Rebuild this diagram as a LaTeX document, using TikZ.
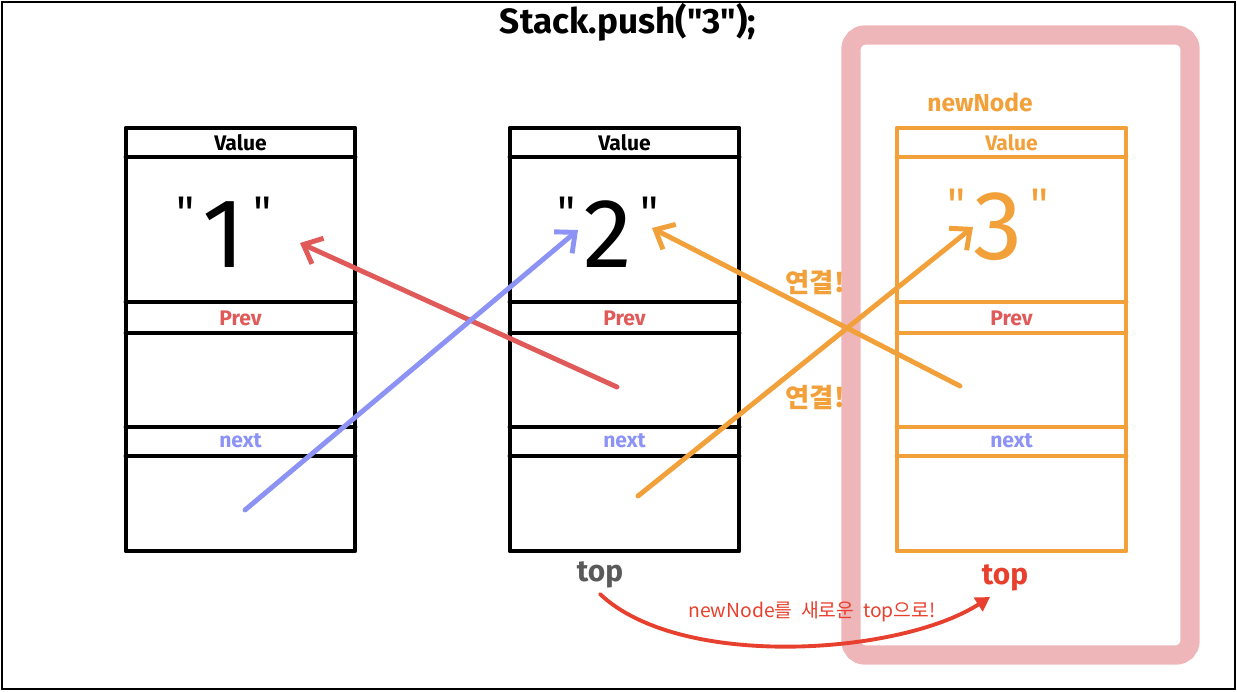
\documentclass[tikz,border=0pt]{standalone}
\usepackage{fontspec}
\setmainfont{Fira Sans}
\newfontfamily\plainfont{Fira Sans}
\newfontfamily\krfont{Noto Sans CJK KR}
\usetikzlibrary{arrows.meta}
\definecolor{NodeOrange}{HTML}{F2A03A}
\definecolor{PrevRed}{HTML}{E05A5A}
\definecolor{NextBlue}{HTML}{8C93F5}
\definecolor{HiPink}{HTML}{EFB6B9}
\definecolor{TopRed}{HTML}{E8402E}
\definecolor{TopGray}{HTML}{5A5A5A}
\newcommand{\quotedval}[1]{\plainfont\raisebox{0.4em}{\fontsize{26}{26}\selectfont"}\hspace{0.08em}#1\hspace{0.08em}\raisebox{0.4em}{\fontsize{26}{26}\selectfont"}}

\begin{document}
\begin{tikzpicture}[x=0.02cm,y=-0.02cm,
    boxline/.style={line width=2.8pt, line cap=round, line join=round},
    link/.style={line width=2.8pt, line cap=round, -{Straight Barb[length=9pt,width=16pt]}},
    field/.style={font=\bfseries\fontsize{12}{12}\selectfont},
    datum/.style={font=\fontsize{56}{56}\selectfont}]
        \useasboundingbox (0,0) rectangle (1237,691);
        \draw[line width=1.2pt] (2,2) rectangle (1235,689);

        % newNode highlight
        \draw[HiPink, line width=11pt, rounded corners=8pt] (851,35) rectangle (1190,655);

        \node[font=\plainfont\bfseries\fontsize{20}{20}\selectfont] (title) at (628,22) {Stack.push("3");};

        \foreach \n/\x/\c in {1/126/black,2/510/black,3/897/NodeOrange} {
          \draw[boxline, \c] (\x,128) rectangle ++(229,423);
          \foreach \y in {157,302,333,427,456}
            \draw[boxline, \c] (\x,\y) -- ++(229,0);
          \node[field, \c] (val\n) at (\x+114.5,143) {Value};
          \node[field, PrevRed] (prev\n) at (\x+114.5,318) {Prev};
          \node[field, NextBlue] (next\n) at (\x+114.5,441) {next};
        }

        \node[datum] (data1) at (224,232) {\quotedval{1}};
        \node[datum] (data2) at (608,232) {\quotedval{2}};
        \node[datum, NodeOrange] (data3) at (998,225) {\quotedval{3}};
        \node[field, NodeOrange, font=\bfseries\fontsize{14}{14}\selectfont] (newnode) at (980,102) {newNode};

        % link ends
        \coordinate (p2) at (617,387);
        \coordinate (n1) at (245,510);
        \coordinate (p3) at (960,386);
        \coordinate (n2) at (638,496);
        \coordinate (d1) at (300,243);
        \coordinate (d2) at (578,230);
        \coordinate (d2b) at (652,228);
        \coordinate (d3) at (973,227);

        \draw[link, PrevRed] (p2) -- (d1);
        \draw[link, NextBlue] (n1) -- (d2);
        \draw[link, NodeOrange] (p3) -- (d2b);
        \draw[link, NodeOrange] (n2) -- (d3);

        \node[NodeOrange, font=\krfont\bfseries\fontsize{15}{15}\selectfont] (link1) at (815,283) {연결!};
        \node[NodeOrange, font=\krfont\bfseries\fontsize{15}{15}\selectfont] (link2) at (815,397) {연결!};

        \node[TopGray, font=\bfseries\fontsize{17}{17}\selectfont] (top2) at (600,575) {top};
        \node[TopRed, font=\bfseries\fontsize{17}{17}\selectfont] (top3) at (1005,578) {top};
        \coordinate (t2) at (600,594);
        \coordinate (t3) at (990,597);
        \draw[TopRed, line width=2.2pt, line cap=round, -{Triangle[length=8pt,width=9pt]}]
          (t2) .. controls (680,670) and (900,655) .. (t3);
        \node[TopRed, font=\krfont\fontsize{11}{11}\selectfont] (move) at (812,612) {newNode를 \ 새로운 \ top으로!};
      \end{tikzpicture}
\end{document}
